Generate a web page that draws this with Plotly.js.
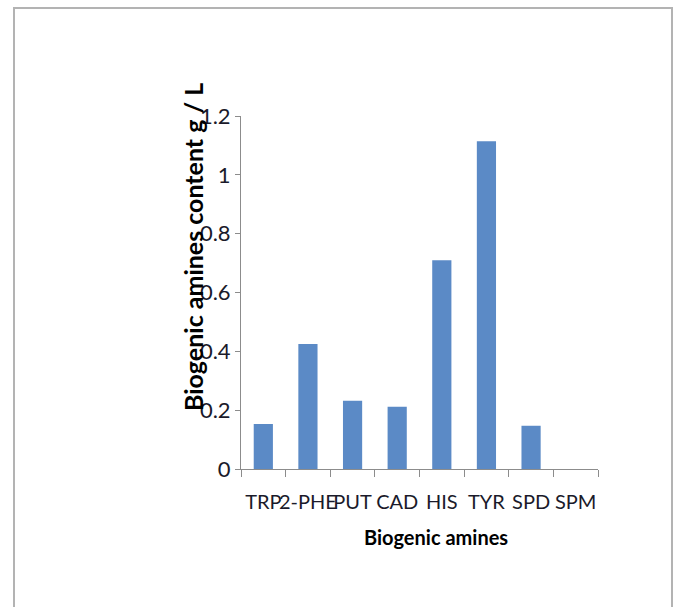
<!DOCTYPE html>
<html>
<head>
<meta charset="utf-8">
<script src="https://cdn.plot.ly/plotly-3.0.1.min.js"></script>
<style>
  html, body { margin: 0; padding: 0; background: #ffffff; }
  #wrap { position: relative; width: 681px; height: 607px; overflow: hidden; }
  #frame { position: absolute; left: 13px; top: 7px; width: 660px; height: 620px; border: 2px solid #b3b3b3; box-sizing: border-box; }
  #chart { position: absolute; left: 0; top: 0; width: 681px; height: 607px; }
</style>
</head>
<body>
<div id="wrap">
  <div id="frame"></div>
  <div id="chart"></div>
</div>
<script>
const categories = ["TRP", "2-PHE", "PUT", "CAD", "HIS", "TYR", "SPD", "SPM"];
const values = [0.153, 0.425, 0.232, 0.212, 0.71, 1.114, 0.147, 0];
const yTicks = [0, 0.2, 0.4, 0.6, 0.8, 1, 1.2];
const yTickLabels = ["0", "0.2", "0.4", "0.6", "0.8", "1", "1.2"];
const xTitle = "Biogenic amines";
const yTitle = "Biogenic amines content g / L";

const fontFam = "Lato, 'Open Sans', sans-serif";

const trace = {
  type: "bar",
  x: categories,
  y: values,
  marker: { color: "#5b8ac6" },
  width: 0.43,
  hoverinfo: "x+y"
};

const layout = {
  width: 681,
  height: 607,
  margin: { l: 241, r: 83, t: 116, b: 138 },
  paper_bgcolor: "rgba(0,0,0,0)",
  plot_bgcolor: "rgba(0,0,0,0)",
  showlegend: false,
  bargap: 0.57,
  xaxis: {
    type: "category",
    showline: true,
    linecolor: "#8c8c8c",
    linewidth: 1,
    ticks: "outside",
    tickson: "boundaries",
    ticklen: 7,
    tickcolor: "#8c8c8c",
    tickangle: 0,
    ticklabelstandoff: 15,
    showgrid: false,
    zeroline: false,
    tickfont: { family: fontFam, size: 20, color: "#1a1a2a" },
    fixedrange: true
  },
  yaxis: {
    range: [0, 1.2],
    tickvals: yTicks,
    ticktext: yTickLabels,
    showline: true,
    linecolor: "#8c8c8c",
    linewidth: 1,
    ticks: "outside",
    ticklen: 5,
    tickcolor: "#8c8c8c",
    showgrid: false,
    zeroline: false,
    tickfont: { family: fontFam, size: 22, color: "#1a1a2a" },
    fixedrange: true
  },
  annotations: [
    {
      text: "<b>" + xTitle + "</b>",
      xref: "paper", yref: "paper",
      x: (436 - 241) / 357, y: -(537 - 469) / 353,
      xanchor: "center", yanchor: "middle",
      showarrow: false,
      font: { family: fontFam, size: 20, color: "#000000" }
    },
    {
      text: "<b>" + yTitle + "</b>",
      xref: "paper", yref: "paper",
      x: -(241 - 193) / 357, y: (469 - 247) / 353,
      xanchor: "center", yanchor: "middle",
      textangle: -90,
      showarrow: false,
      font: { family: fontFam, size: 25, color: "#000000" }
    }
  ]
};

Plotly.newPlot("chart", [trace], layout, { displayModeBar: false, staticPlot: true });
</script>
</body>
</html>
